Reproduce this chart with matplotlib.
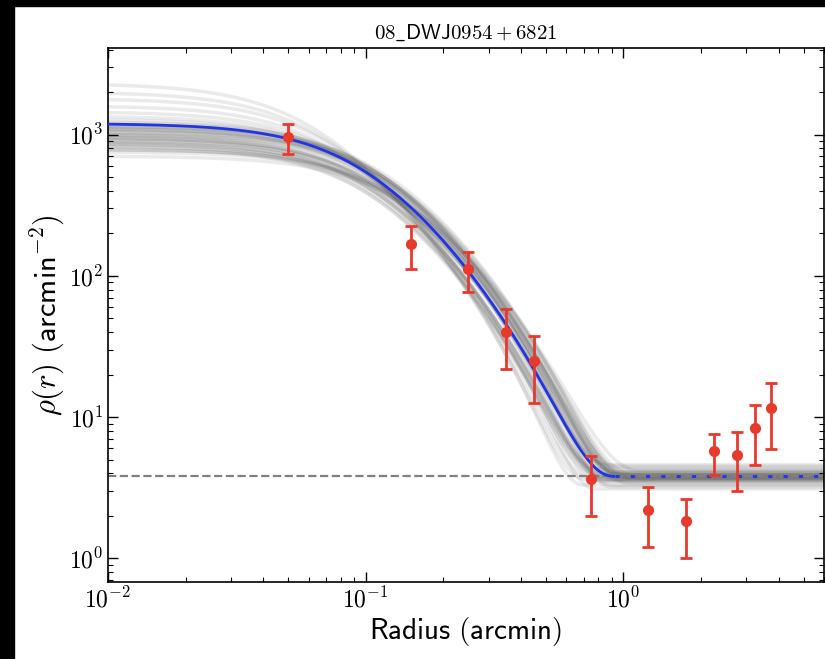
import matplotlib
matplotlib.use("Agg")
import matplotlib.pyplot as plt
import numpy as np
from matplotlib.patches import Rectangle

plt.rcParams['mathtext.fontset'] = 'cm'
plt.rcParams['font.family'] = 'serif'
plt.rcParams['font.serif'] = ['cmr10', 'DejaVu Serif']
plt.rcParams['axes.formatter.use_mathtext'] = True

# binned profile (arcmin, stars/arcmin^2)
radius = [0.05, 0.15, 0.25, 0.35, 0.45, 0.75, 1.25, 1.75, 2.25, 2.75, 3.25, 3.75]
density = [960, 168, 112, 40, 25, 3.66, 2.2, 1.83, 5.75, 5.4, 8.4, 11.6]
density_err = [230, 56, 35, 18, 12.4, 1.68, 1.0, 0.82, 1.86, 2.4, 3.8, 5.7]

# best-fit King profile
best_rc = 0.10
best_rt = 0.92
best_rho0 = 1195
best_bg = 3.8

# posterior draws of the King profile
draw_rc = [0.105, 0.110, 0.115, 0.120, 0.108, 0.112, 0.118, 0.125, 0.102, 0.113,
           0.109, 0.116, 0.122, 0.106, 0.111, 0.119, 0.104, 0.114, 0.121, 0.107,
           0.117, 0.128, 0.103, 0.110, 0.115, 0.120, 0.108, 0.113, 0.124, 0.106,
           0.118, 0.112, 0.070, 0.075, 0.080, 0.085, 0.065, 0.140, 0.145, 0.135,
           0.090, 0.095]
draw_rho0 = [1100, 850, 1150, 900, 800, 1200, 940, 1000, 950, 1080,
             880, 1120, 820, 1180, 960, 1050, 830, 1010, 1130, 900,
             1060, 780, 1000, 1150, 870, 990, 1230, 920, 1040, 860,
             1100, 950, 2000, 1800, 1600, 1450, 2300, 750, 700, 780,
             1350, 1280]
draw_rt = [0.92, 0.88, 0.95, 1.00, 0.85, 0.90, 0.97, 1.05, 0.82, 0.93,
           0.87, 0.99, 1.02, 0.80, 0.91, 0.96, 0.84, 0.94, 1.03, 0.86,
           0.98, 1.08, 0.83, 0.90, 0.95, 1.00, 0.88, 0.92, 1.06, 0.81,
           0.97, 0.89, 0.75, 0.80, 0.70, 0.85, 0.72, 1.10, 1.15, 1.05,
           0.78, 0.88]
draw_bg = [3.8, 3.6, 4.0, 3.5, 3.9, 3.7, 4.2, 3.4, 3.8, 4.1,
           3.6, 3.9, 3.7, 4.3, 3.3, 3.8, 4.0, 3.6, 3.9, 3.5,
           4.4, 3.7, 3.8, 3.2, 4.1, 3.7, 3.6, 4.0, 3.8, 3.5,
           3.9, 4.5, 3.7, 3.8, 3.3, 4.0, 3.6, 3.9, 4.2, 3.7,
           3.1, 4.6]


def king(r, rc, rt, rho0, bg):
    a = 1.0 / np.sqrt(1.0 + (rt / rc) ** 2)
    k = rho0 / (1.0 - a) ** 2
    core = k * (1.0 / np.sqrt(1.0 + (r / rc) ** 2) - a) ** 2
    return np.where(r < rt, core, 0.0) + bg


fig = plt.figure(figsize=(8.25, 6.59), dpi=100)
ax = fig.add_axes([108 / 825, 1 - 582 / 659, 716 / 825, 534 / 659])

r = np.logspace(-2, np.log10(6), 600)
for rc, rt, rho0, bg in zip(draw_rc, draw_rt, draw_rho0, draw_bg):
    ax.plot(r, king(r, rc, rt, rho0, bg), color='0.35', alpha=0.12, lw=2.5, zorder=1)

ax.axhline(best_bg, color='gray', ls='--', lw=1.6, zorder=2)

r_in = r[r <= best_rt]
r_out = r[r >= best_rt]
ax.plot(r_in, king(r_in, best_rc, best_rt, best_rho0, best_bg), color='#1f35e6', lw=2, zorder=3)
ax.plot(r_out, np.full_like(r_out, best_bg), color='#1f35e6', lw=2,
        ls=(0, (1.5, 4)), zorder=3)

ax.errorbar(radius, density, yerr=density_err, fmt='o', color='#e8392b', ms=7,
            elinewidth=2, capsize=4.5, capthick=2, zorder=4)

ax.set_xscale('log')
ax.set_yscale('log')
ax.set_xlim(0.01, 6)
ax.set_ylim(0.68, 4100)

ax.tick_params(which='both', direction='in', top=True, right=True, labelsize=17)
ax.tick_params(which='major', length=7, width=1)
ax.tick_params(which='minor', length=3.5, width=0.8)
for s in ax.spines.values():
    s.set_linewidth(1.2)

ax.set_xlabel(r'$\mathsf{Radius\ (arcmin)}$', fontsize=21, labelpad=2)
ax.set_ylabel(r'$\rho(r)\ \mathsf{(arcmin^{-2})}$', fontsize=22, labelpad=2)
ax.set_title(r'$\mathsf{08}\_\mathsf{DWJ0954}+\mathsf{6821}$', fontsize=15, pad=7)

# dark frame left by the screenshot crop
fig.patches.append(Rectangle((0, 1 - 6 / 659), 1, 6 / 659, transform=fig.transFigure,
                             color='black', zorder=10))
fig.patches.append(Rectangle((0, 0), 14 / 825, 1, transform=fig.transFigure,
                             color='black', zorder=10))

fig.savefig('out.png', dpi=100)
